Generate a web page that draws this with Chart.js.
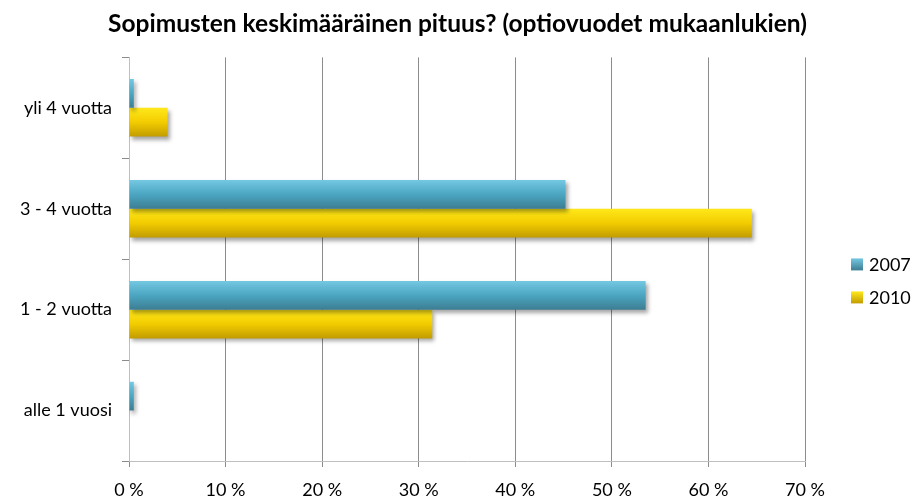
<!DOCTYPE html>
<html>
<head>
<meta charset="utf-8">
<script src="https://cdn.jsdelivr.net/npm/chart.js@4"></script>
<style>
  body { margin: 0; background: #fff; }
</style>
</head>
<body>
<canvas id="myChart" width="915" height="501"></canvas>
<script>
var categories = ['yli 4 vuotta', '3 - 4 vuotta', '1 - 2 vuotta', 'alle 1 vuosi'];
var seriesNames = ['2007', '2010'];
var values2007 = [0.5, 45.2, 53.5, 0.5];
var values2010 = [4.0, 64.5, 31.4, 0];
var xTicks = [0, 10, 20, 30, 40, 50, 60, 70];

var FONT = 'Lato, "Open Sans", sans-serif';

// top, middle, bottom colours of each series' gradient
var grads = [
    ['#74c8e2', '#4ba6c2', '#3d7d92'],
    ['#ffe81a', '#f2cc00', '#c29c00']
];
var solid = ['#4ba3c0', '#e8c400'];

function barFill(c) {
    var ds = c.datasetIndex;
    if (c.type !== 'data') return solid[ds];
    var chart = c.chart;
    var y = chart.scales.y;
    if (!y || !isFinite(y.top) || !isFinite(y.height)) return solid[ds];
    var center = y.getPixelForValue(c.dataIndex);
    var h = (y.height / categories.length) * 0.57 / 2;
    var top = ds === 0 ? center - h : center;
    var g = chart.ctx.createLinearGradient(0, top, 0, top + h);
    g.addColorStop(0, grads[ds][0]);
    g.addColorStop(0.5, grads[ds][1]);
    g.addColorStop(1, grads[ds][2]);
    return g;
}

var shadow = {
    id: 'shadow',
    beforeDatasetsDraw: function(chart) {
        var c = chart.ctx;
        c.save();
        c.shadowColor = 'rgba(0,0,0,0.35)';
        c.shadowBlur = 4;
        c.shadowOffsetX = 2;
        c.shadowOffsetY = 3;
    },
    afterDatasetsDraw: function(chart) {
        chart.ctx.restore();
    }
};

// center the title over the whole canvas, not only the padded part
var wideTitle = {
    id: 'wideTitle',
    beforeDraw: function(chart) {
        var t = chart.titleBlock;
        if (t) {
            t.left = 0;
            t.right = chart.width;
            t.width = chart.width;
        }
    }
};

// legend at the right, beside the plot
var sideLegend = {
    id: 'sideLegend',
    afterDraw: function(chart) {
        var c = chart.ctx;
        var area = chart.chartArea;
        c.save();
        c.font = '18px ' + FONT;
        c.textBaseline = 'middle';
        c.textAlign = 'left';
        chart.data.datasets.forEach(function(ds, i) {
            var y = area.top + 207 + i * 33;
            var x = area.right + 46;
            var g = c.createLinearGradient(0, y - 6, 0, y + 6);
            g.addColorStop(0, grads[i][0]);
            g.addColorStop(1, grads[i][2]);
            c.fillStyle = g;
            c.fillRect(x, y - 6, 12, 12);
            c.fillStyle = '#000';
            c.fillText(ds.label, x + 18, y + 1);
        });
        c.restore();
    }
};

var ctx = document.getElementById('myChart').getContext('2d');

var myChart = new Chart(ctx, {
    type: 'bar',
    data: {
        labels: categories,
        datasets: [{
            label: seriesNames[0],
            data: values2007,
            backgroundColor: barFill,
            borderWidth: 0
        }, {
            label: seriesNames[1],
            data: values2010,
            backgroundColor: barFill,
            borderWidth: 0
        }]
    },
    options: {
        indexAxis: 'y',
        responsive: false,
        animation: false,
        categoryPercentage: 0.57,
        barPercentage: 1,
        layout: {
            padding: { left: 0, right: 110, bottom: 0, top: 0 }
        },
        scales: {
            x: {
                min: 0,
                max: 70,
                afterBuildTicks: function(axis) {
                    axis.ticks = xTicks.map(function(v) { return { value: v }; });
                },
                afterFit: function(axis) { axis.height = 40; },
                ticks: {
                    callback: function(v) { return v + ' %'; },
                    font: { family: FONT, size: 18 },
                    color: '#000',
                    padding: 12,
                    maxRotation: 0
                },
                grid: {
                    color: '#8c8c8c',
                    tickLength: 6,
                    tickColor: '#8c8c8c'
                },
                border: { color: '#bfbfbf' }
            },
            y: {
                afterFit: function(axis) { axis.width = 129; },
                ticks: {
                    font: { family: FONT, size: 18 },
                    color: '#000',
                    padding: 10
                },
                grid: {
                    offset: true,
                    drawOnChartArea: false,
                    tickLength: 7,
                    tickColor: '#8c8c8c'
                },
                border: { color: '#bfbfbf' }
            }
        },
        plugins: {
            title: {
                display: true,
                text: 'Sopimusten keskimääräinen pituus? (optiovuodet mukaanlukien)',
                font: { family: FONT, size: 24.5, weight: 'bold' },
                color: '#000',
                padding: { top: 9, bottom: 19 }
            },
            legend: { display: false },
            tooltip: { enabled: false }
        }
    },
    plugins: [shadow, wideTitle, sideLegend]
});
</script>
</body>
</html>
